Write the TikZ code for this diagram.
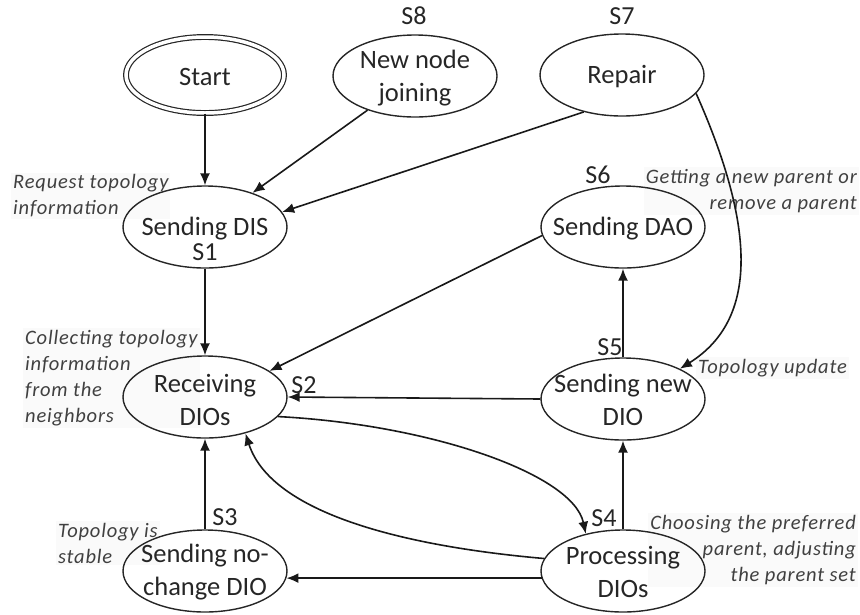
\documentclass[tikz,border=0pt]{standalone}
\usepackage{fontspec}
\setmainfont{Carlito}
\newfontfamily\notefont[LetterSpace=4]{Carlito}
\usetikzlibrary{shapes.geometric,arrows.meta}

\begin{document}
\begin{tikzpicture}[x=1pt,y=-1pt,
  state/.style={ellipse, draw=black!85, line width=1.4pt, minimum width=164pt, minimum height=82pt, inner sep=0pt},
  startstate/.style={ellipse, draw=black!85, line width=1.2pt, double, double distance=3.5pt, minimum width=158pt, minimum height=76pt, inner sep=0pt},
  txt/.style={align=center, text=black!85, font=\fontsize{26.5}{33}\selectfont, inner sep=0pt},
  tag/.style={text=black!85, font=\fontsize{26}{30}\selectfont, inner sep=0pt},
  note/.style={font=\notefont\itshape\fontsize{20.5}{26}\selectfont, text=black!75, inner sep=2pt, fill=black!2},
  arr/.style={draw=black!90, line width=1.6pt, -{Latex[length=12pt,width=10pt]}},
]
\useasboundingbox (0,0) rectangle (860,614);

% annotations (drawn first so that lines and states lie on top)
\node[note, align=left, anchor=west]  (n1) at (11,196)  {Request topology\\information};
\node[note, align=right, anchor=east] (n2) at (859,191) {Getting a new parent or\\remove a parent};
\node[note, align=left, anchor=west]  (n3) at (23,378)  {Collecting topology\\information\\from the\\neighbors};
\node[note, align=left, anchor=west]  (n4) at (696,368) {Topology update};
\node[note, align=left, anchor=west]  (n5) at (56,543)  {Topology is\\stable};
\node[note, align=right, anchor=east] (n6) at (858,550) {Choosing the preferred\\parent, adjusting\\the parent set};

% states
\node[startstate] (start) at (205,75) {};
\node[state] (join)  at (415,76)  {};
\node[state] (rep)   at (622,75)  {};
\node[state] (dis)   at (205,227) {};
\node[state] (dao)   at (623,227) {};
\node[state] (rdio)  at (205,397) {};
\node[state] (ndio)  at (623,399) {};
\node[state] (nochg) at (205,571) {};
\node[state] (proc)  at (623,571) {};

% state texts
\node[txt] (startt) at (205,77)  {Start};
\node[txt] (joint)  at (415,78)  {New node\\joining};
\node[txt] (rept)   at (622,77)  {Repair};
\node[txt] (dist)   at (205,229) {Sending DIS};
\node[txt] (daot)   at (623,229) {Sending DAO};
\node[txt] (rdiot)  at (205,400) {Receiving\\DIOs};
\node[txt] (ndiot)  at (623,400) {Sending new\\DIO};
\node[txt] (nochgt) at (205,572) {Sending no-\\change DIO};
\node[txt] (proct)  at (623,572) {Processing\\DIOs};

% state numbers
\node[tag] (s1) at (205,252) {S1};
\node[tag] (s2) at (304,385) {S2};
\node[tag] (s3) at (225,517) {S3};
\node[tag] (s4) at (604,518) {S4};
\node[tag] (s5) at (610,347) {S5};
\node[tag] (s6) at (598,175) {S6};
\node[tag] (s7) at (622,16)  {S7};
\node[tag] (s8) at (414,16)  {S8};

% transitions (y axis points down, so polar angles are mirrored)
\draw[arr] (start) -- (dis);
\draw[arr] (join) -- (dis);
\draw[arr] (rep.224) -- (dis.11);
\draw[arr] (rep.-14) .. controls +(66:148) and +(-32:92) .. (ndio.28);
\draw[arr] (dis) -- (rdio);
\draw[arr] (dao.186) -- (rdio.22);
\draw[arr] (ndio) -- (dao);
\draw[arr] (ndio.west) -- (rdio.east);
\draw[arr] (rdio.-15) .. controls +(3:153) and +(-102:61) .. (proc.135);
\draw[arr] (proc.171) .. controls +(-175:141) and +(72:84) .. (rdio.-42);
\draw[arr] (proc) -- (ndio);
\draw[arr] (proc.185) -- (nochg.-5);
\draw[arr] (nochg) -- (rdio);
\end{tikzpicture}
\end{document}
